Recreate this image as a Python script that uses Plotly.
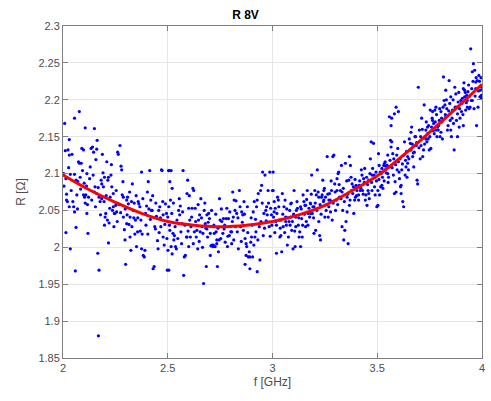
import plotly.graph_objects as go

seg_a = [
(2.008,2.168),(2.011,2.131),(2.030,2.146),(2.024,2.132),(2.030,2.125),(2.043,2.126),(2.003,2.100),
(2.014,2.093),(2.035,2.099),(2.055,2.099),(2.017,2.072),(2.021,2.062),(2.017,2.064),(2.030,2.055),
(2.051,2.055),(2.055,2.048),(2.014,2.020),(2.035,1.998),(2.062,2.027),(2.059,1.968),(2.066,2.071),
(2.071,2.089),(2.074,2.116),(2.078,2.114),(2.082,2.095),(2.087,2.114),(2.090,2.134),(2.098,2.132),
(2.078,2.184),(2.055,2.175),(2.106,2.162),(2.114,2.100),(2.114,2.046),(2.119,2.019),(2.098,2.071),
(2.103,2.068),(2.106,2.060),(2.109,2.071),(2.122,2.068),(2.130,2.109),(2.134,2.134),(2.141,2.136),
(2.146,2.129),(2.150,2.161),(2.150,2.075),(2.153,2.082),(2.157,2.119),(2.161,2.073),(2.161,2.133),
(2.163,2.145),(2.166,1.992),(2.172,1.969),(2.169,1.880),(2.172,2.068),(2.177,2.062),(2.182,2.091),
(2.185,2.086),(2.185,2.066),(2.188,2.126),(2.193,2.082),(2.198,2.095),(2.198,2.030),(2.201,2.041),
(2.204,2.046),(2.209,2.116),(2.214,2.091),(2.217,2.095),(2.217,2.006),(2.220,2.033),(2.225,2.068),
(2.229,2.098),(2.233,2.082),(2.236,2.050),(2.240,2.055),(2.245,2.046),(2.248,2.046),(2.252,2.057),
(2.240,2.073),(2.256,2.048),(2.261,2.129),(2.264,2.126),(2.272,2.138),(2.277,2.110),(2.280,2.105),
(2.283,2.071),(2.288,2.041),(2.288,2.068),(2.293,2.024),(2.296,2.010),(2.299,1.977),(2.304,2.032),
(2.304,2.064),(2.308,2.068),(2.312,2.059),(2.315,2.031),(2.320,2.041),(2.320,2.014),(2.324,1.996),
(2.327,2.062),(2.331,2.086),(2.335,2.050),(2.340,2.060),(2.343,2.018),(2.346,2.037),(2.351,2.001),
(2.356,2.021),(2.359,2.062),(2.362,2.059),(2.367,2.055),(2.372,2.037),(2.375,2.102),(2.375,1.998),
(2.378,2.018),(2.383,1.989),(2.388,1.987),(2.391,1.996),(2.394,2.046),(2.399,2.056),(2.403,2.075),
(2.407,2.089),(2.410,2.052),(2.414,2.104),(2.419,2.064),(2.422,2.050),(2.426,2.050),(2.430,1.971),
(2.435,1.974),(2.438,2.028),(2.441,2.025),(2.446,2.042),(2.451,2.009),(2.454,1.998),(2.457,2.050),
(2.462,2.055),(2.467,2.028),(2.470,2.105),(2.473,2.104),(2.478,2.044),(2.478,2.014),(2.483,2.003),
(2.489,2.059),(2.494,2.046),(2.498,1.969),(2.501,1.996),(2.505,2.104),
(2.005,2.083),(2.027,2.108),(2.039,2.077),(2.047,2.062),(2.063,2.091),(2.069,2.052),(2.084,2.079),
(2.093,2.104),(2.101,2.087),(2.112,2.083),(2.117,2.058),(2.127,2.093),(2.137,2.064),(2.144,2.098),
(2.155,2.055),(2.168,2.081),(2.179,2.044),(2.191,2.101),(2.196,2.062),(2.206,2.070),(2.212,2.037),
(2.223,2.053),(2.231,2.112),(2.243,2.028),(2.254,2.077),(2.259,2.035),(2.268,2.058),(2.275,2.047),
(2.286,2.089),(2.297,2.052),(2.306,2.044),(2.318,2.075),(2.329,2.028),(2.338,2.040),(2.349,2.070),
(2.357,2.040),(2.369,2.022),(2.381,2.066),(2.396,2.030),(2.405,2.018),(2.417,2.038),(2.428,2.070),
(2.443,2.060),(2.459,2.020),(2.465,2.040),(2.476,2.062),(2.486,2.031),(2.496,2.012),
]
seg_b = [
(2.505,2.104),(2.516,2.104),(2.510,2.089),(2.521,2.080),(2.513,2.064),(2.505,2.055),(2.500,2.041),
(2.510,2.023),(2.525,2.019),(2.529,2.010),(2.516,2.001),(2.521,1.991),(2.505,1.969),(2.532,2.016),
(2.537,2.001),(2.541,1.998),(2.544,2.037),(2.552,2.050),(2.557,2.044),(2.560,2.056),(2.563,2.021),
(2.568,2.032),(2.573,2.104),(2.576,1.962),(2.579,1.987),(2.584,1.989),(2.589,2.014),(2.592,2.073),
(2.595,2.091),(2.600,2.053),(2.605,2.037),(2.608,2.014),(2.611,2.028),(2.616,2.053),(2.620,2.080),
(2.624,2.077),(2.627,2.021),(2.631,2.053),(2.636,2.014),(2.639,2.023),(2.643,1.998),(2.647,2.037),
(2.652,2.044),(2.655,2.021),(2.658,2.066),(2.663,2.028),(2.668,2.019),(2.671,1.951),(2.674,2.050),
(2.679,2.032),(2.684,1.974),(2.687,2.044),(2.690,2.014),(2.695,2.046),(2.699,2.039),(2.703,1.989),
(2.706,2.002),(2.711,2.003),(2.715,2.001),(2.718,2.003),(2.722,2.019),(2.726,2.001),(2.731,2.021),
(2.734,2.005),(2.737,1.974),(2.742,1.994),(2.747,2.066),(2.750,2.037),(2.753,2.012),(2.758,2.035),
(2.763,2.019),(2.766,2.039),(2.769,2.025),(2.774,2.007),(2.779,2.039),(2.782,2.053),(2.785,2.001),
(2.790,2.039),(2.794,2.016),(2.798,2.028),(2.801,2.021),(2.805,2.005),(2.810,2.075),(2.813,2.041),
(2.817,2.064),(2.821,2.050),(2.826,2.063),(2.829,2.046),(2.832,2.021),(2.837,1.998),(2.842,2.077),
(2.845,2.055),(2.848,2.028),(2.853,2.048),(2.858,2.044),(2.861,2.023),(2.864,2.062),(2.869,2.012),
(2.874,2.005),(2.877,2.001),(2.880,2.055),(2.885,1.987),(2.889,1.994),(2.892,1.971),(2.896,2.007),
(2.900,2.014),(2.905,1.987),(2.908,2.048),(2.911,2.003),(2.916,2.014),(2.921,2.021),(2.924,2.055),
(2.927,2.064),(2.932,2.073),(2.937,2.028),(2.940,1.983),(2.943,2.077),(2.948,2.084),(2.953,2.102),
(2.956,2.016),(2.959,2.046),(2.964,2.098),(2.968,2.050),(2.972,2.055),(2.975,2.044),(2.979,2.077),
(2.984,2.028),(2.987,2.102),(2.991,2.053),(2.995,2.044),(3.000,2.077),(3.003,2.102),(2.927,1.967),
(2.869,1.977),(2.892,1.987),(2.874,1.989),(2.734,2.010),(2.805,2.021),(2.703,2.019),(2.687,2.025),
(2.592,2.014),(2.600,2.001),
(2.508,2.030),(2.519,2.046),(2.527,2.060),(2.535,2.028),(2.548,2.012),(2.555,2.066),(2.566,2.005),
(2.571,2.048),(2.582,2.030),(2.597,2.022),(2.603,2.070),(2.614,2.041),(2.622,2.005),(2.633,2.035),
(2.645,2.058),(2.650,2.008),(2.661,2.040),(2.666,2.000),(2.677,2.060),(2.682,2.026),(2.693,2.034),
(2.709,2.050),(2.720,2.030),(2.729,2.045),(2.740,2.026),(2.745,2.010),(2.756,2.052),(2.772,2.030),
(2.787,2.015),(2.796,2.048),(2.808,2.035),(2.815,2.010),(2.824,2.028),(2.835,2.040),(2.851,2.008),
(2.856,2.034),(2.866,2.045),(2.882,2.020),(2.898,2.040),(2.903,2.030),(2.913,2.062),(2.919,2.038),
(2.930,2.010),(2.945,2.035),(2.951,2.060),(2.962,2.026),(2.970,2.036),(2.981,2.060),(2.989,2.015),
(2.997,2.030),
]
seg_c = [
(3.003,2.077),(3.008,2.062),(3.013,2.053),(3.016,2.035),(3.019,2.030),(3.024,2.068),(3.028,2.064),
(3.032,2.037),(3.035,2.014),(3.040,2.016),(3.044,1.994),(3.047,2.073),(3.051,2.028),(3.055,2.055),
(3.060,2.064),(3.063,2.035),(3.066,2.030),(3.071,2.003),(3.076,2.014),(3.079,2.035),(3.082,2.050),
(3.087,2.059),(3.092,2.023),(3.095,2.035),(3.098,1.998),(3.103,2.077),(3.108,2.001),(3.111,2.041),
(3.114,2.050),(3.119,2.053),(3.123,2.030),(3.127,2.014),(3.130,2.021),(3.134,2.001),(3.139,2.039),
(3.142,2.014),(3.146,2.071),(3.150,2.062),(3.155,2.057),(3.158,2.028),(3.161,2.035),(3.166,2.077),
(3.171,2.046),(3.174,2.053),(3.177,2.041),(3.182,2.046),(3.187,2.098),(3.190,2.046),(3.193,2.055),
(3.198,2.019),(3.202,2.077),(3.206,2.023),(3.209,2.071),(3.214,2.105),(3.218,2.075),(3.221,2.035),
(3.225,2.016),(3.229,2.010),(3.234,2.068),(3.237,2.071),(3.240,2.091),(3.245,2.077),(3.250,2.041),
(3.253,2.068),(3.256,2.050),(3.261,2.123),(3.266,2.041),(3.269,2.055),(3.272,2.073),(3.277,2.048),
(3.282,2.077),(3.285,2.037),(3.288,2.123),(3.293,2.125),(3.297,2.086),(3.301,2.050),(3.304,2.064),
(3.308,2.093),(3.313,2.100),(3.316,2.102),(3.320,2.068),(3.324,2.077),(3.329,2.111),(3.332,2.028),
(3.335,2.050),(3.340,2.010),(3.345,2.023),(3.348,2.114),(3.351,2.035),(3.356,2.068),(3.361,2.005),
(3.364,2.091),(3.367,2.123),(3.372,2.111),(3.377,2.077),(3.380,2.086),(3.383,2.073),(3.388,2.046),
(3.392,2.064),(3.396,2.080),(3.399,2.084),(3.403,2.077),(3.408,2.082),(3.411,2.064),(3.414,2.084),
(3.419,2.077),(3.424,2.105),(3.427,2.098),(3.430,2.077),(3.435,2.093),(3.440,2.107),(3.443,2.064),
(3.446,2.071),(3.451,2.057),(3.456,2.077),(3.459,2.073),(3.462,2.066),(3.467,2.120),(3.471,2.143),
(3.475,2.077),(3.478,2.107),(3.482,2.141),(3.487,2.082),(3.490,2.071),(3.494,2.102),(3.498,2.055),
(3.503,2.077),(3.506,2.127),(3.509,2.111),(3.490,2.095),(3.475,2.098),(3.459,2.091),(3.411,2.071),
(3.396,2.068),(3.367,2.057),(3.356,2.048),(3.332,2.075),(3.308,2.077),(3.285,2.062),(3.269,2.064),
(3.245,2.064),(3.221,2.068),(3.198,2.055),(3.182,2.059),(3.158,2.057),(3.134,2.055),(3.111,2.028),
(3.087,2.041),(3.063,2.041),(3.040,2.037),(3.019,1.992),(3.008,2.048),
(3.005,2.041),(3.011,2.020),(3.021,2.046),(3.030,2.055),(3.037,2.026),(3.049,2.045),(3.058,2.020),
(3.068,2.052),(3.074,2.040),(3.084,2.030),(3.090,2.060),(3.101,2.045),(3.106,2.022),(3.117,2.062),
(3.125,2.040),(3.137,2.052),(3.144,2.030),(3.153,2.045),(3.163,2.065),(3.169,2.030),(3.180,2.060),
(3.185,2.072),(3.196,2.040),(3.204,2.060),(3.212,2.050),(3.227,2.058),(3.232,2.045),(3.243,2.062),
(3.248,2.080),(3.259,2.058),(3.264,2.072),(3.275,2.064),(3.280,2.090),(3.290,2.060),(3.299,2.075),
(3.311,2.058),(3.318,2.085),(3.327,2.066),(3.338,2.080),(3.343,2.062),(3.354,2.090),(3.359,2.072),
(3.370,2.064),(3.375,2.095),(3.386,2.082),(3.394,2.092),(3.401,2.070),(3.416,2.090),(3.422,2.080),
(3.433,2.072),(3.438,2.088),(3.449,2.095),(3.454,2.085),(3.465,2.100),(3.473,2.088),(3.485,2.098),
(3.496,2.090),
]
seg_d = [
(3.503,2.057),(3.511,2.071),(3.516,2.082),(3.519,2.100),(3.522,2.107),(3.527,2.080),(3.531,2.111),
(3.535,2.114),(3.538,2.105),(3.543,2.101),(3.547,2.111),(3.550,2.100),(3.554,2.095),(3.558,2.109),
(3.563,2.145),(3.566,2.136),(3.569,2.143),(3.574,2.127),(3.579,2.120),(3.582,2.073),(3.585,2.089),
(3.590,2.075),(3.595,2.105),(3.598,2.134),(3.601,2.116),(3.606,2.093),(3.611,2.082),(3.614,2.073),
(3.617,2.105),(3.622,2.062),(3.626,2.055),(3.630,2.143),(3.633,2.098),(3.637,2.109),(3.642,2.095),
(3.645,2.114),(3.649,2.105),(3.653,2.147),(3.658,2.141),(3.661,2.156),(3.664,2.163),(3.669,2.123),
(3.674,2.109),(3.677,2.129),(3.680,2.150),(3.685,2.138),(3.690,2.091),(3.693,2.086),(3.696,2.217),
(3.701,2.159),(3.705,2.120),(3.709,2.138),(3.712,2.175),(3.717,2.123),(3.721,2.132),(3.724,2.193),
(3.728,2.150),(3.732,2.159),(3.737,2.143),(3.740,2.163),(3.743,2.147),(3.748,2.132),(3.753,2.186),
(3.756,2.134),(3.759,2.163),(3.764,2.184),(3.769,2.168),(3.772,2.154),(3.775,2.186),(3.780,2.190),
(3.785,2.150),(3.788,2.163),(3.791,2.159),(3.796,2.172),(3.800,2.150),(3.804,2.156),(3.807,2.175),
(3.811,2.147),(3.816,2.231),(3.819,2.199),(3.823,2.193),(3.827,2.213),(3.832,2.188),(3.835,2.159),
(3.838,2.165),(3.843,2.226),(3.848,2.172),(3.851,2.159),(3.854,2.150),(3.859,2.186),(3.864,2.168),
(3.867,2.132),(3.870,2.217),(3.875,2.208),(3.880,2.190),(3.883,2.150),(3.886,2.197),(3.891,2.163),
(3.895,2.175),(3.899,2.199),(3.902,2.184),(3.906,2.202),(3.911,2.165),(3.914,2.223),(3.917,2.213),
(3.922,2.186),(3.927,2.206),(3.930,2.199),(3.933,2.211),(3.938,2.188),(3.943,2.190),(3.946,2.269),
(3.949,2.199),(3.954,2.238),(3.959,2.249),(3.962,2.188),(3.965,2.240),(3.970,2.224),(3.974,2.165),
(3.978,2.226),(3.981,2.190),(3.985,2.233),(3.990,2.204),(3.993,2.213),(3.997,2.206),(3.999,2.217),
(3.998,2.202),(3.558,2.177),(3.569,2.175),(3.582,2.181),(3.590,2.190),(3.601,2.184),(3.566,2.165),
(3.685,2.138),(3.732,2.147),(3.764,2.172),(3.780,2.159),(3.804,2.184),(3.827,2.177),(3.851,2.204),
(3.883,2.181),(3.911,2.215),(3.930,2.190),(3.954,2.199),(3.970,2.215),(3.917,2.204),(3.740,2.154),
(3.661,2.132),(3.614,2.084),(3.645,2.123),(3.522,2.084),(3.538,2.116),(3.550,2.125),
(3.508,2.092),(3.514,2.102),(3.525,2.095),(3.533,2.090),(3.541,2.110),(3.552,2.088),(3.561,2.118),
(3.571,2.108),(3.577,2.098),(3.588,2.112),(3.593,2.125),(3.604,2.102),(3.609,2.120),(3.620,2.113),
(3.628,2.125),(3.635,2.118),(3.640,2.130),(3.651,2.120),(3.656,2.132),(3.667,2.140),(3.672,2.128),
(3.683,2.150),(3.688,2.142),(3.699,2.135),(3.707,2.150),(3.715,2.160),(3.726,2.140),(3.734,2.170),
(3.745,2.165),(3.751,2.150),(3.762,2.175),(3.767,2.158),(3.777,2.170),(3.783,2.180),(3.793,2.165),
(3.798,2.188),(3.809,2.170),(3.814,2.190),(3.825,2.180),(3.830,2.200),(3.841,2.185),(3.846,2.195),
(3.857,2.175),(3.862,2.200),(3.872,2.190),(3.878,2.172),(3.889,2.210),(3.893,2.188),(3.904,2.195),
(3.909,2.180),(3.920,2.210),(3.925,2.196),(3.936,2.220),(3.941,2.205),(3.951,2.215),(3.957,2.225),
(3.967,2.205),(3.972,2.230),(3.983,2.212),(3.988,2.225),(3.995,2.230),
]

# Fitted curve
fit_f = [2.0, 2.125, 2.25, 2.375, 2.5, 2.625, 2.75, 2.875, 3.0, 3.125, 3.25, 3.375, 3.5, 3.625, 3.75, 3.875, 4.0]
fit_r = [2.098, 2.078, 2.061, 2.046, 2.035, 2.030, 2.028, 2.030, 2.035, 2.044, 2.057, 2.076, 2.097, 2.125, 2.156, 2.188, 2.221]

x_ticks = [2, 2.5, 3, 3.5, 4]
y_ticks = [1.85, 1.9, 1.95, 2, 2.05, 2.1, 2.15, 2.2, 2.25, 2.3]
y_tick_text = ["1.85", "1.9", "1.95", "2", "2.05", "2.1", "2.15", "2.2", "2.25", "2.3"]

pts = seg_a + seg_b + seg_c + seg_d
f_meas = [p[0] for p in pts]
r_meas = [p[1] for p in pts]

fig = go.Figure()
fig.add_trace(go.Scatter(x=f_meas, y=r_meas, mode="markers",
                         marker=dict(color="#0000ff", size=3.2, line=dict(width=0)),
                         showlegend=False, cliponaxis=True))
fig.add_trace(go.Scatter(x=fit_f, y=fit_r, mode="lines", line=dict(color="#ff0000", width=3, shape="spline"),
                         showlegend=False))

font = "Liberation Sans, Arial, Helvetica, sans-serif"
axis_common = dict(showline=True, linecolor="#808080", linewidth=1, mirror="ticks",
                   ticks="inside", ticklen=5, tickcolor="#808080",
                   showgrid=True, gridcolor="#e6e6e6", gridwidth=1, zeroline=False,
                   tickfont=dict(family=font, size=11, color="#4d4d4d"))
fig.update_layout(
    width=491, height=401,
    margin=dict(l=63, r=6, t=26, b=43),
    paper_bgcolor="white", plot_bgcolor="white",
    title=dict(text="<b>R 8V</b>", x=0.5, xanchor="center", y=0.963, yanchor="middle",
               font=dict(family=font, size=12, color="#000000")),
    xaxis=dict(range=[2, 4], tickvals=x_ticks, ticktext=[str(t) for t in x_ticks],
               title=dict(text="f [GHz]", font=dict(family=font, size=12, color="#4d4d4d"), standoff=4),
               **axis_common),
    yaxis=dict(range=[1.85, 2.3], tickvals=y_ticks, ticktext=y_tick_text,
               title=dict(text="R [Ω]", font=dict(family=font, size=12, color="#4d4d4d"), standoff=10),
               **axis_common),
)
fig.write_html("out.html")
